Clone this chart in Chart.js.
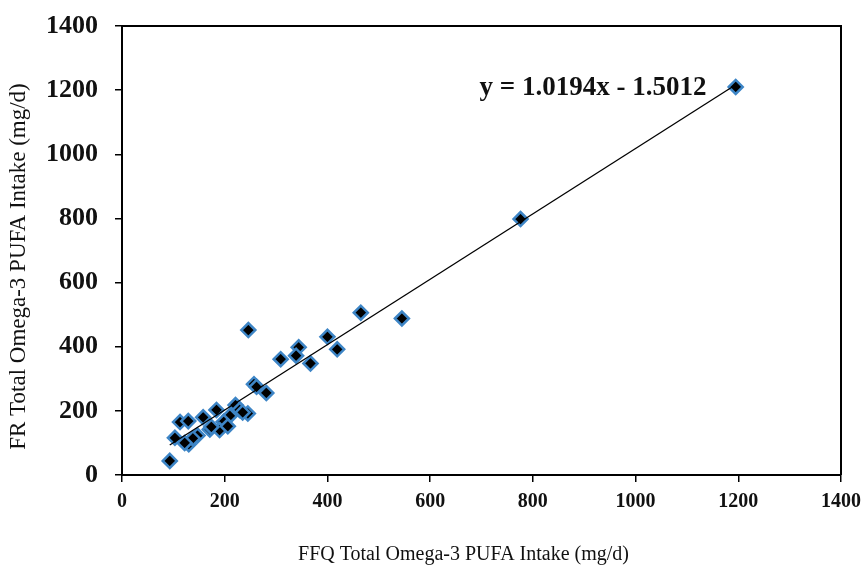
<!DOCTYPE html>
<html><head><meta charset="utf-8">
<script src="https://cdn.jsdelivr.net/npm/chart.js@4"></script>
<style>html,body{margin:0;padding:0;background:#fff}#wrap{width:863px;height:568px}</style>
</head><body><div id="wrap"><canvas id="c" width="863" height="568"></canvas></div>
<script>
// FFQ (x) vs FR (y) total omega-3 PUFA intake, mg/d
const ffqIntake = [1195, 776, 465, 545, 400, 419, 344, 309, 339, 367, 246, 257, 262, 281, 221, 245, 184, 210, 198, 158, 171, 190, 206, 113, 129, 147, 103, 130, 93, 138, 174, 229, 122, 235];
const frIntake  = [1210, 798, 506, 488, 431, 392, 398, 361, 372, 348, 452, 283, 275, 256, 218, 192, 203, 184, 166, 180, 142, 140, 152, 165, 168, 123, 116, 96, 44, 114, 150, 203, 100, 195];
const xTickValues = [0, 200, 400, 600, 800, 1000, 1200, 1400];
const yTickValues = [0, 200, 400, 600, 800, 1000, 1200, 1400];
const trendSlope = 1.0194;
const trendIntercept = -1.5012;
const equationText = 'y = 1.0194x - 1.5012';
const equationAnchor = [1138, 1206];
const xTitle = 'FFQ Total Omega-3 PUFA Intake (mg/d)';
const yTitle = 'FR Total Omega-3 PUFA Intake (mg/d)';

const points = ffqIntake.map((x, i) => ({x: x, y: frIntake[i]}));
const xMin = Math.min(...ffqIntake), xMax = Math.max(...ffqIntake);
const trendPoints = [xMin, xMax].map(x => ({x: x, y: trendSlope * x + trendIntercept}));

const serif = '"Liberation Serif", "Times New Roman", serif';

const frameAndText = {
  id: 'frameAndText',
  afterDatasetsDraw(chart) {
    const {ctx, chartArea: a, scales} = chart;
    ctx.save();
    ctx.strokeStyle = '#000';
    ctx.lineWidth = 2;
    ctx.beginPath();
    ctx.moveTo(a.left, a.top);
    ctx.lineTo(a.right, a.top);
    ctx.lineTo(a.right, a.bottom);
    ctx.stroke();
    ctx.fillStyle = '#111';
    ctx.font = 'bold 27px ' + serif;
    ctx.textAlign = 'right';
    ctx.textBaseline = 'middle';
    ctx.fillText(equationText, scales.x.getPixelForValue(equationAnchor[0]), scales.y.getPixelForValue(equationAnchor[1]));
    // axis titles
    ctx.textAlign = 'center';
    ctx.font = '20px ' + serif;
    ctx.fillText(xTitle, (a.left + a.right) / 2 - 18, chart.height - 13);
    ctx.translate(19, (a.top + a.bottom) / 2 + 16);
    ctx.rotate(-Math.PI / 2);
    ctx.font = '23px ' + serif;
    ctx.fillText(yTitle, 0, 0);
    ctx.restore();
  }
};

new Chart(document.getElementById('c'), {
  type: 'scatter',
  data: {
    datasets: [
      {
        type: 'line',
        data: trendPoints,
        borderColor: '#000',
        borderWidth: 1.3,
        pointRadius: 0,
        fill: false
      },
      {
        data: points,
        pointStyle: 'rectRot',
        pointRadius: 7,
        pointHoverRadius: 7,
        backgroundColor: '#000',
        borderColor: '#3d85c6',
        borderWidth: 2.5
      }
    ]
  },
  options: {
    responsive: false,
    animation: false,
    layout: {padding: {top: 26, right: 22, left: 0, bottom: 0}},
    plugins: {legend: {display: false}, tooltip: {enabled: false}},
    scales: {
      x: {
        type: 'linear', min: 0, max: 1400,
        afterBuildTicks: s => { s.ticks = xTickValues.map(v => ({value: v})); },
        afterFit: s => { s.height = 93; s.paddingLeft = 0; s.paddingRight = 0; },
        grid: {drawOnChartArea: false, drawTicks: true, tickLength: 7, color: '#000', lineWidth: 1.5},
        border: {display: true, color: '#000', width: 2},
        ticks: {color: '#111', padding: 8, maxRotation: 0, callback: v => String(v), font: {family: serif, size: 20, weight: 'bold'}},
        title: {display: false}
      },
      y: {
        type: 'linear', min: 0, max: 1400,
        afterBuildTicks: s => { s.ticks = yTickValues.map(v => ({value: v})); },
        afterFit: s => { s.width = 122; s.paddingTop = 0; s.paddingBottom = 0; },
        grid: {drawOnChartArea: false, drawTicks: true, tickLength: 7, color: '#000', lineWidth: 1.5},
        border: {display: true, color: '#000', width: 2},
        ticks: {color: '#111', padding: 17, callback: v => String(v), font: {family: serif, size: 26, weight: 'bold'}},
        title: {display: false}
      }
    }
  },
  plugins: [frameAndText]
});
</script>
</body></html>
